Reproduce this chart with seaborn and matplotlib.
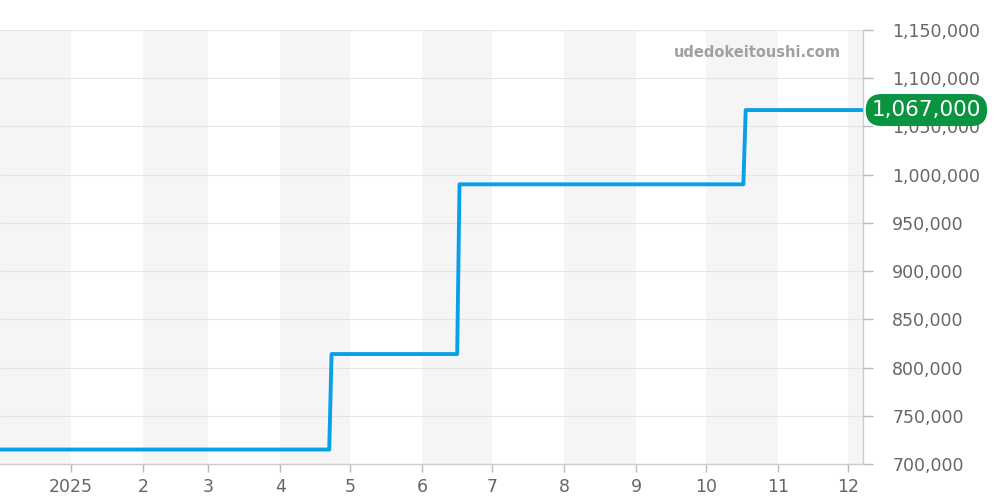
import pandas as pd
import matplotlib
matplotlib.use("Agg")
import matplotlib.pyplot as plt
import matplotlib.transforms as mtransforms
import seaborn as sns

# ======================
# データ
# ======================
DATES = ['2024-12-01', '2025-04-22', '2025-04-23', '2025-06-16', '2025-06-17',
         '2025-10-17', '2025-10-18', '2025-12-07']
PRICES = [715000, 715000, 814000, 814000, 990000, 990000, 1067000, 1067000]
LAST_LABEL = '1,067,000'
MONTH_TICKS = ['2025-01-01', '2025-02-01', '2025-03-01', '2025-04-01', '2025-05-01',
               '2025-06-01', '2025-07-01', '2025-08-01', '2025-09-01', '2025-10-01',
               '2025-11-01', '2025-12-01']
MONTH_LABELS = ['2025', '2', '3', '4', '5', '6', '7', '8', '9', '10', '11', '12']
Y_TICKS = [700000, 750000, 800000, 850000, 900000, 950000, 1000000, 1050000,
           1100000, 1150000]
WATERMARK = 'udedokeitoushi.com'

LINE_COLOR = '#0aa0e6'
BADGE_COLOR = '#0a9340'
TEXT_COLOR = '#666666'

sns.set_style('white')
plt.rcParams['font.family'] = ['DejaVu Sans']

df = pd.DataFrame({'date': pd.to_datetime(DATES), 'price': PRICES})

fig = plt.figure(figsize=(10, 5), dpi=100)
ax = fig.add_axes([0.0, 0.072, 0.863, 0.868])

# 月ごとの背景帯
x_min = pd.Timestamp('2024-12-01 12:00')
x_max = pd.Timestamp('2025-12-07 10:00')
months = pd.date_range('2024-12-01', '2026-01-01', freq='MS')
for i, m in enumerate(months[:-1]):
    if i % 2 == 0:
        ax.axvspan(m, months[i + 1], color='#f5f5f5', zorder=0, lw=0)

sns.lineplot(data=df, x='date', y='price', ax=ax, color=LINE_COLOR, linewidth=2.8,
             zorder=3)

ax.set_xlim(x_min, x_max)
ax.set_ylim(700000, 1150000)

ax.yaxis.tick_right()
ax.set_yticks(Y_TICKS)
ax.set_yticklabels([f'{v:,}' for v in Y_TICKS])
ax.set_xticks(pd.to_datetime(MONTH_TICKS))
ax.set_xticklabels(MONTH_LABELS)
ax.tick_params(axis='y', colors='#bbbbbb', labelcolor=TEXT_COLOR, labelsize=12.5,
               length=7, width=1, pad=14, right=True, left=False)
ax.tick_params(axis='x', colors='#bbbbbb', labelcolor=TEXT_COLOR, labelsize=12.5,
               length=6, width=1, pad=4, bottom=True)
ax.grid(axis='y', color='#e4e4e4', linewidth=0.8, zorder=1)
ax.set_axisbelow(True)
ax.set_xlabel('')
ax.set_ylabel('')

for side in ['top', 'left']:
    ax.spines[side].set_visible(False)
for side in ['right', 'bottom']:
    ax.spines[side].set_visible(True)
    ax.spines[side].set_color('#cccccc')
    ax.spines[side].set_linewidth(1)

# 透かし
ax.text(0.974, 0.948, WATERMARK, transform=ax.transAxes, ha='right', va='center',
        fontsize=10.5, fontweight='bold', color='#a0a0a0', zorder=4)

# 最新価格バッジ
trans = mtransforms.blended_transform_factory(ax.transAxes, ax.transData)
ax.text(1.0735, PRICES[-1], LAST_LABEL, transform=trans, ha='center', va='center',
        fontsize=15.5, color='white', zorder=5, clip_on=False,
        bbox=dict(boxstyle='round,pad=0.28,rounding_size=0.75', fc=BADGE_COLOR,
                  ec='none'))

plt.savefig('out.png', dpi=100)
plt.close()
